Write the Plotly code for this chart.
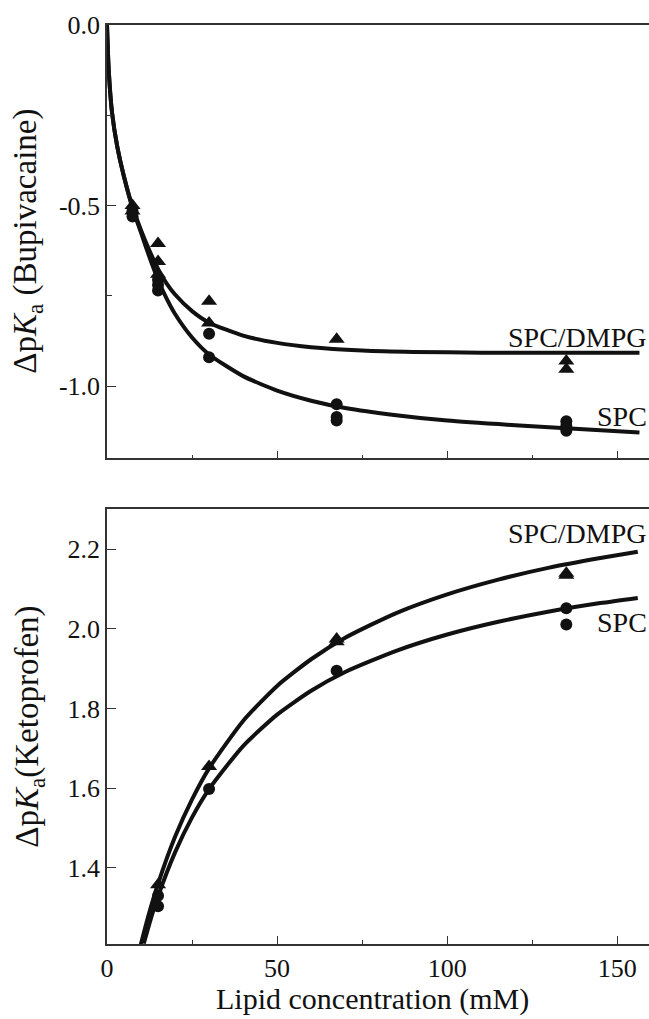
import plotly.graph_objects as go

# ---------------- data ----------------
# Top panel: Bupivacaine
top_pts_x_dmpg = [7.5, 7.5, 15, 15, 15, 30, 30, 67.5, 135, 135]
top_pts_y_dmpg = [-0.50, -0.515, -0.605, -0.655, -0.69, -0.765, -0.825, -0.87, -0.93, -0.953]
top_pts_x_spc = [7.5, 7.5, 15, 15, 15, 30, 30, 67.5, 67.5, 67.5, 135, 135, 135]
top_pts_y_spc = [-0.515, -0.53, -0.705, -0.72, -0.735, -0.855, -0.92, -1.05, -1.085, -1.095, -1.097, -1.11, -1.123]

top_fit_x_dmpg = [0, 0.5, 1.5, 3, 5, 7.5, 10, 12.5, 15, 17.5, 20, 25, 30, 40, 50, 60, 75, 90, 110, 135, 156.5]
top_fit_y_dmpg = [0, -0.124, -0.244, -0.336, -0.42, -0.503, -0.568, -0.625, -0.675, -0.715, -0.746, -0.792,
                  -0.824, -0.86, -0.88, -0.892, -0.901, -0.905, -0.907, -0.907, -0.907]
top_fit_x_spc = [0, 0.5, 1.5, 3, 5, 7.5, 10, 12.5, 15, 17.5, 20, 25, 30, 40, 50, 60, 70, 85, 100, 120, 140, 156.5]
top_fit_y_spc = [0, -0.124, -0.244, -0.336, -0.42, -0.507, -0.575, -0.643, -0.705, -0.757, -0.80, -0.865,
                 -0.912, -0.972, -1.012, -1.04, -1.06, -1.08, -1.095, -1.108, -1.119, -1.128]

# Bottom panel: Ketoprofen
bot_pts_x_dmpg = [15, 30, 67.5, 67.5, 135, 135]
bot_pts_y_dmpg = [1.358, 1.655, 1.975, 1.968, 2.14, 2.135]
bot_pts_x_spc = [15, 15, 30, 67.5, 135, 135]
bot_pts_y_spc = [1.33, 1.304, 1.598, 1.895, 2.052, 2.011]

bot_fit_x_dmpg = [9.8, 12, 15, 20, 25, 30, 40, 50, 60, 70, 85, 100, 115, 130, 145, 156]
bot_fit_y_dmpg = [1.203, 1.275, 1.360, 1.478, 1.572, 1.650, 1.769, 1.857, 1.924, 1.978, 2.040, 2.087,
                  2.124, 2.154, 2.178, 2.194]
bot_fit_x_spc = [10.8, 13, 15, 20, 25, 30, 40, 50, 60, 70, 85, 100, 115, 130, 145, 156]
bot_fit_y_spc = [1.210, 1.276, 1.329, 1.439, 1.527, 1.598, 1.706, 1.785, 1.845, 1.892, 1.945, 1.986,
                 2.018, 2.044, 2.065, 2.078]

x_tickvals = [0, 50, 100, 150]
x_ticktext = ["0", "50", "100", "150"]
x_minor_tickvals = [25, 75, 125]
top_y_tickvals = [0.0, -0.5, -1.0]
top_y_ticktext = ["0.0", "-0.5", "-1.0"]
top_y_minor_tickvals = [-0.25, -0.75]
bot_y_tickvals = [1.4, 1.6, 1.8, 2.0, 2.2]
bot_y_ticktext = ["1.4", "1.6", "1.8", "2.0", "2.2"]

# ---------------- figure ----------------
FONT = "Liberation Serif"
INK = "#111111"
AX = "#333333"

fig = go.Figure()

def add_panel(xa, ya, fx1, fy1, fx2, fy2, px1, py1, px2, py2):
    for fx, fy in ((fx1, fy1), (fx2, fy2)):
        fig.add_trace(go.Scatter(x=fx, y=fy, mode="lines",
                                 line=dict(color=INK, width=4, shape="spline", smoothing=0.6),
                                 xaxis=xa, yaxis=ya, showlegend=False, hoverinfo="skip"))
    fig.add_trace(go.Scatter(x=px1, y=py1, mode="markers", marker=dict(symbol="triangle-up", size=14, color=INK),
                             xaxis=xa, yaxis=ya, showlegend=False))
    fig.add_trace(go.Scatter(x=px2, y=py2, mode="markers", marker=dict(symbol="circle", size=12, color=INK),
                             xaxis=xa, yaxis=ya, showlegend=False))

add_panel("x", "y", top_fit_x_dmpg, top_fit_y_dmpg, top_fit_x_spc, top_fit_y_spc,
          top_pts_x_dmpg, top_pts_y_dmpg, top_pts_x_spc, top_pts_y_spc)
add_panel("x2", "y2", bot_fit_x_dmpg, bot_fit_y_dmpg, bot_fit_x_spc, bot_fit_y_spc,
          bot_pts_x_dmpg, bot_pts_y_dmpg, bot_pts_x_spc, bot_pts_y_spc)

axis_common = dict(showline=True, linecolor=AX, linewidth=1.5, ticks="inside", tickcolor=AX,
                   tickwidth=1.2, showgrid=False, zeroline=False)

xcommon = dict(axis_common, range=[0, 159.3], tickvals=x_tickvals, ticktext=x_ticktext, ticklen=8, mirror=True,
               minor=dict(tickvals=x_minor_tickvals, ticklen=4, ticks="inside", tickcolor=AX, tickwidth=1.2,
                          showgrid=False))

fig.update_layout(
    width=649, height=1019,
    margin=dict(l=107, r=0, t=25, b=75),
    paper_bgcolor="white", plot_bgcolor="white",
    font=dict(family=FONT, color=INK, size=26),
    xaxis=dict(xcommon, anchor="y", showticklabels=False),
    yaxis=dict(axis_common, domain=[0.5283, 1.0], range=[-1.2, 0.0], tickvals=top_y_tickvals,
               ticktext=top_y_ticktext, ticklen=9,
               minor=dict(tickvals=top_y_minor_tickvals, ticklen=5, ticks="inside", tickcolor=AX, tickwidth=1.2,
                          showgrid=False)),
    xaxis2=dict(xcommon, anchor="y2"),
    yaxis2=dict(axis_common, domain=[0.0, 0.4728], range=[1.209, 2.30], tickvals=bot_y_tickvals,
                ticktext=bot_y_ticktext, ticklen=9),
)
fig.update_xaxes(tickfont=dict(family=FONT, size=26, color=INK))
fig.update_yaxes(tickfont=dict(family=FONT, size=26, color=INK))

ann_font = dict(family=FONT, size=28, color=INK)
ytitle_font = dict(family=FONT, size=33, color=INK)
xtitle_font = dict(family=FONT, size=30, color=INK)
annotations = [
    dict(x=159.2, y=-0.864, xref="x", yref="y", text="SPC/DMPG", xanchor="right", yanchor="middle",
         showarrow=False, font=ann_font),
    dict(x=159.2, y=-1.083, xref="x", yref="y", text="SPC", xanchor="right", yanchor="middle",
         showarrow=False, font=ann_font),
    dict(x=159.2, y=2.239, xref="x2", yref="y2", text="SPC/DMPG", xanchor="right", yanchor="middle",
         showarrow=False, font=ann_font),
    dict(x=159.2, y=2.015, xref="x2", yref="y2", text="SPC", xanchor="right", yanchor="middle",
         showarrow=False, font=ann_font),
    dict(x=(28 - 107) / 542, y=0.5, xref="x domain", yref="y domain",
         text="Δp<i>K</i><sub>a</sub> (Bupivacaine)",
         textangle=-90, xanchor="center", yanchor="middle", showarrow=False, font=ytitle_font),
    dict(x=(30 - 107) / 542, y=0.5, xref="x2 domain", yref="y2 domain",
         text="Δp<i>K</i><sub>a</sub>(Ketoprofen)",
         textangle=-90, xanchor="center", yanchor="middle", showarrow=False, font=ytitle_font),
    dict(x=(372 - 107) / 542, y=(944 - 999) / 919, xref="paper", yref="paper", text="Lipid concentration (mM)",
         xanchor="center", yanchor="middle", showarrow=False, font=xtitle_font),
]
fig.update_layout(annotations=annotations)

fig.write_html("out.html")
